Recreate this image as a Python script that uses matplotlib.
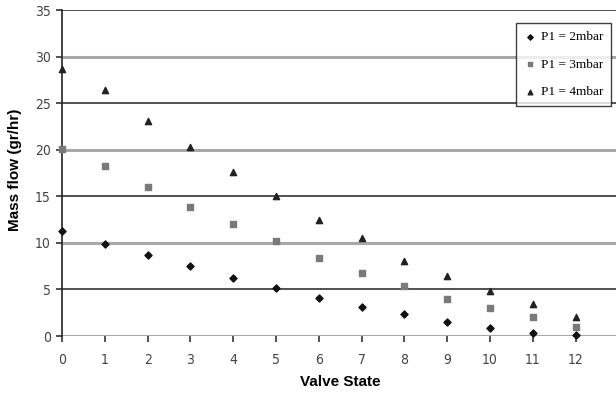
import matplotlib
matplotlib.use("Agg")
import matplotlib.pyplot as plt

valve_state = list(range(13))
flow_2mbar = [11.3, 9.9, 8.7, 7.5, 6.2, 5.2, 4.1, 3.1, 2.4, 1.5, 0.9, 0.3, 0.1]
flow_3mbar = [20.1, 18.3, 16.0, 13.9, 12.0, 10.2, 8.4, 6.8, 5.4, 4.0, 3.0, 2.0, 1.0]
flow_4mbar = [28.7, 26.4, 23.1, 20.3, 17.6, 15.0, 12.5, 10.5, 8.1, 6.4, 4.8, 3.4, 2.0]
series_labels = ["P1 = 2mbar", "P1 = 3mbar", "P1 = 4mbar"]
y_ticks = [0, 5, 10, 15, 20, 25, 30, 35]

W, H = 616, 401
fig = plt.figure(figsize=(W / 100, H / 100), dpi=100)
x0, x1 = 62, 616
y_top, y_bot = 10, 336
ax = fig.add_axes([x0 / W, 1 - y_bot / H, (x1 - x0) / W, (y_bot - y_top) / H])

# alternating dark / light horizontal gridlines
for i, v in enumerate(y_ticks):
    if i % 2 == 0:
        ax.axhline(v, color="#a8a8a8", lw=2.2, zorder=1)
    else:
        ax.axhline(v, color="#222222", lw=1.1, zorder=1)

ax.scatter(valve_state, flow_2mbar, marker="D", s=13, color="#111111",
           label=series_labels[0], zorder=3, clip_on=False)
ax.scatter(valve_state, flow_3mbar, marker="s", s=15, color="#7a7a7a",
           label=series_labels[1], zorder=3, clip_on=False)
ax.scatter(valve_state, flow_4mbar, marker="^", s=20, color="#222222",
           label=series_labels[2], zorder=3, clip_on=False)

ax.set_xlim(0, (x1 - x0) / 42.8)
ax.set_ylim(0, 35)
ax.set_xticks(valve_state)
ax.set_yticks(y_ticks)

for s in ["top", "right", "bottom"]:
    ax.spines[s].set_visible(False)
ax.spines["left"].set_color("#222222")
ax.spines["left"].set_linewidth(1.2)

ax.tick_params(axis="both", colors="#333333", labelcolor="#444444",
               labelsize=10, length=4, width=1.2)
ax.tick_params(axis="x", pad=8)
ax.tick_params(axis="y", pad=4)
for lbl in ax.get_xticklabels() + ax.get_yticklabels():
    lbl.set_family("DejaVu Sans")
    lbl.set_fontstretch("condensed")

fig.text(340 / W, 1 - 382 / H, "Valve State", ha="center", va="center",
         fontsize=11, fontweight="bold", family="Liberation Sans")
fig.text(15 / W, 1 - 170 / H, "Mass flow (gr/hr)", ha="center", va="center",
         rotation=90, fontsize=11, fontweight="bold", family="Liberation Sans")

leg = ax.legend(loc="upper right", bbox_to_anchor=(611 / W, 1 - 23 / H),
                bbox_transform=fig.transFigure, frameon=True, fancybox=False,
                prop={"family": "Liberation Serif", "size": 9.5},
                handletextpad=0.3, markerscale=0.75, borderpad=0.6,
                borderaxespad=0.0, labelspacing=1.15, handlelength=1.0)
leg.get_frame().set_edgecolor("#111111")
leg.get_frame().set_linewidth(1.0)
leg.set_zorder(5)

fig.savefig("out.png", dpi=100)
